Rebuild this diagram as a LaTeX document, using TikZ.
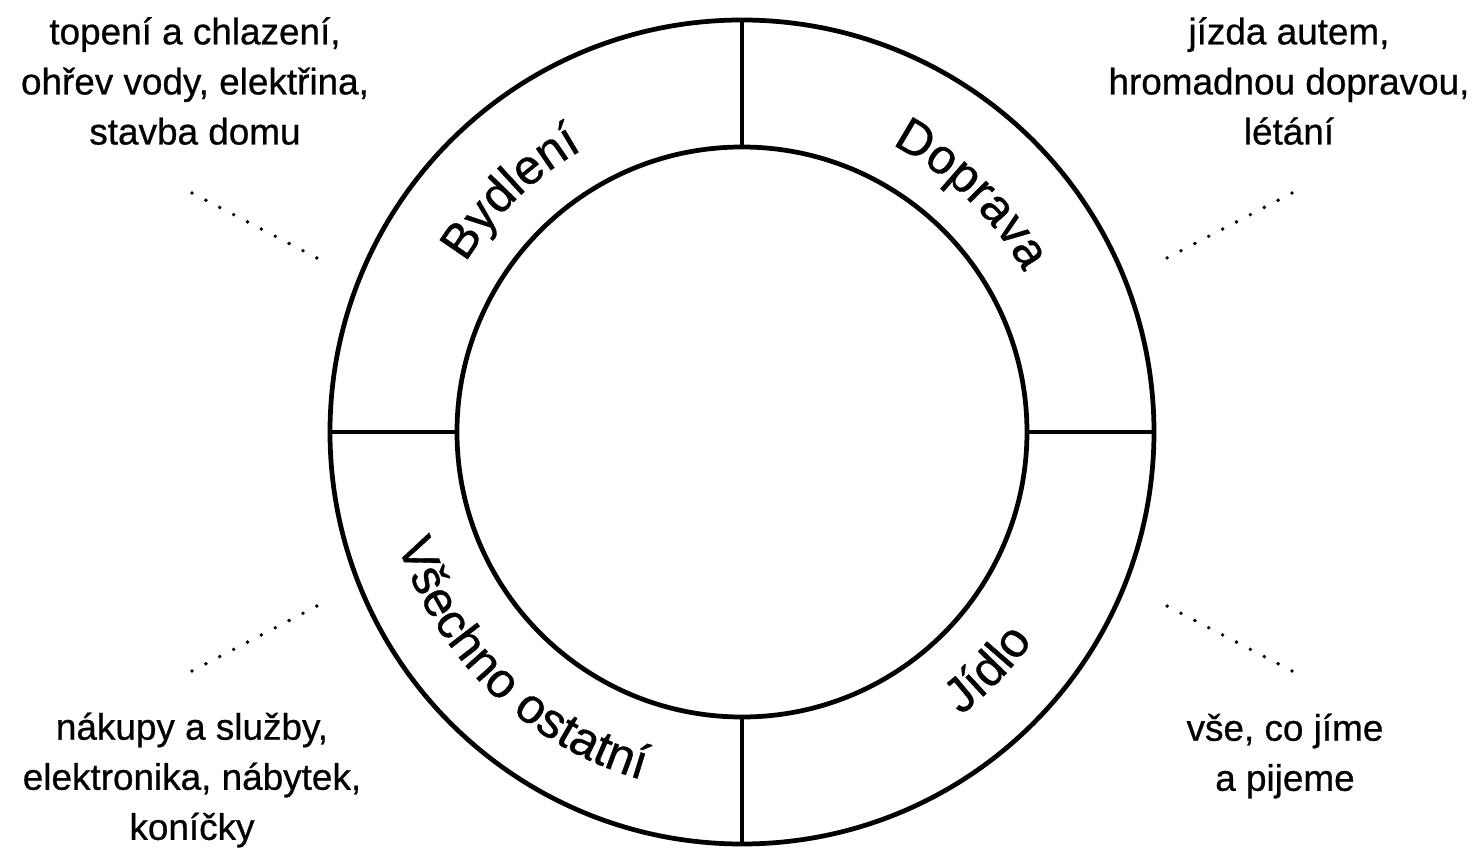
\documentclass[tikz,border=0pt]{standalone}
\usepackage{fontspec}
\setmainfont[FakeBold=0.7]{Liberation Sans}
\usetikzlibrary{decorations.text}

\begin{document}
\begin{tikzpicture}[
    x=0.02cm, y=0.02cm,
    ring/.style={line width=2.7pt, black},
    note/.style={align=center, font=\fontsize{21}{28.5}\selectfont, inner sep=0pt},
    leader/.style={line width=2.2pt, line cap=round, dash pattern=on 0pt off 8.9pt},
    ringlabel/.style={decorate, decoration={text along path, text align=center,
                      text={|\fontsize{28}{30}\selectfont|#1}}}
  ]
    \useasboundingbox (-742,-416) rectangle (736,432);

    % ring
    \coordinate (centre) at (0,0);
    \draw[ring] (centre) circle[radius=412];
    \draw[ring] (centre) circle[radius=285];
    \draw[ring] (90:285) -- (90:412);
    \draw[ring] (0:285) -- (0:412);
    \draw[ring] (270:285) -- (270:412);
    \draw[ring] (180:285) -- (180:412);

    % sector names
    \path[ringlabel={Bydlení}] (174:324) arc[start angle=174, end angle=94, radius=324];
    \path[ringlabel={Doprava}] (86:324) arc[start angle=86, end angle=6, radius=324];
    \path[ringlabel={Jídlo}] (-85:358) arc[start angle=-85, end angle=-3, radius=358];
    \path[ringlabel={Všechno ostatní}] (168:362) arc[start angle=168, end angle=284, radius=362];

    % notes
    \node[note] (housing) at (-547,351) {topení a chlazení,\\ohřev vody, elektřina,\\stavba domu};
    \node[note] (transport) at (547,351) {jízda autem,\\hromadnou dopravou,\\létání};
    \node[note] (other) at (-550,-348) {nákupy a služby,\\elektronika, nábytek,\\koníčky};
    \node[note] (food) at (543,-324) {vše, co jíme\\a pijeme};

    \coordinate (housing-a) at (-550,239);
    \coordinate (housing-b) at (-425,174);
    \coordinate (transport-a) at (550,239);
    \coordinate (transport-b) at (425,174);
    \coordinate (other-a) at (-550,-239);
    \coordinate (other-b) at (-425,-174);
    \coordinate (food-a) at (550,-239);
    \coordinate (food-b) at (425,-174);

    \draw[leader] (housing-a) -- (housing-b);
    \draw[leader] (transport-a) -- (transport-b);
    \draw[leader] (other-a) -- (other-b);
    \draw[leader] (food-a) -- (food-b);
  \end{tikzpicture}
\end{document}
